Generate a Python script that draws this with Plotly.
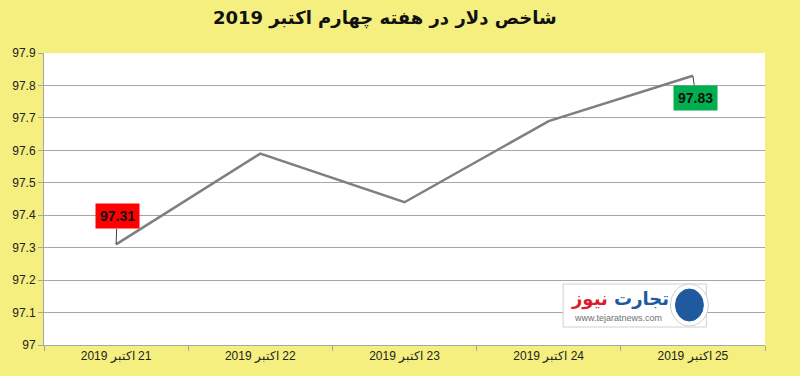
import plotly.graph_objects as go

dates = ["21", "22", "23", "24", "25"]
month_label = "اکتبر"
year_label = "2019"
values = [97.31, 97.59, 97.44, 97.69, 97.83]
y_ticks = [97, 97.1, 97.2, 97.3, 97.4, 97.5, 97.6, 97.7, 97.8, 97.9]
title_text = "شاخص دلار در هفته چهارم اکتبر 2019"

tick_text = ["\u202B" + d + " " + month_label + " " + year_label + "\u202C" for d in dates]
xs = list(range(len(dates)))

fig = go.Figure()
fig.add_trace(go.Scatter(x=xs, y=values, mode="lines",
                         line=dict(color="#7F7F7F", width=2.5),
                         hoverinfo="skip", showlegend=False))

bg = "#F4EF7E"
fig.update_layout(
    width=800, height=376,
    paper_bgcolor=bg, plot_bgcolor="white",
    margin=dict(l=40, r=35, t=53, b=31),
    title=dict(text="<b>" + title_text + "</b>", x=0.481, xanchor="center", y=0.952, yanchor="middle",
               font=dict(family="DejaVu Sans", size=18, color="#111111")),
    font=dict(family="Liberation Sans", size=12, color="#222222"),
)
fig.update_xaxes(range=[-0.5, len(dates) - 0.5], tickmode="array", tickvals=xs,
                 ticktext=tick_text, ticks="", showgrid=False, zeroline=False,
                 showline=True, linecolor="#A6A6A6", linewidth=1,
                 tickfont=dict(size=12, color="#222222"),
                 minor=dict(tickmode="linear", tick0=-0.5, dtick=1, ticks="outside",
                            ticklen=5, tickcolor="#A6A6A6", showgrid=False))
fig.update_yaxes(range=[97, 97.9], tickmode="array", tickvals=y_ticks,
                 ticktext=[("%g" % v) for v in y_ticks],
                 showgrid=True, gridcolor="#A6A6A6", gridwidth=1, zeroline=False,
                 showline=True, linecolor="#A6A6A6", linewidth=1,
                 ticks="outside", ticklen=5, tickcolor="#A6A6A6",
                 tickfont=dict(size=12, color="#222222"))

fig.add_annotation(x=xs[0], y=values[0], text="<b>%.2f</b>" % values[0],
                   showarrow=True, arrowhead=0, arrowwidth=1, arrowcolor="#404040",
                   ax=1, ay=-28, bgcolor="#FF0000", borderpad=4,
                   font=dict(family="Liberation Sans", size=14, color="#111111"))
fig.add_annotation(x=xs[4], y=values[4], text="<b>%.2f</b>" % values[4],
                   showarrow=True, arrowhead=0, arrowwidth=1, arrowcolor="#404040",
                   ax=3, ay=22, bgcolor="#00B050", borderpad=4,
                   font=dict(family="Liberation Sans", size=14, color="#111111"))

# watermark logo
fig.add_shape(type="rect", xref="paper", yref="paper",
              x0=(562 - 40) / 725, x1=(706 - 40) / 725,
              y0=(345 - 327) / 292, y1=(345 - 284) / 292,
              fillcolor="white", line=dict(color="#D0D0D0", width=1), layer="above")
fig.add_shape(type="circle", xref="paper", yref="paper",
              x0=(670 - 40) / 725, x1=(708 - 40) / 725,
              y0=(345 - 326) / 292, y1=(345 - 284) / 292,
              fillcolor="white", line=dict(color="#D0D0D0", width=1), layer="above")
fig.add_shape(type="circle", xref="paper", yref="paper",
              x0=(675 - 40) / 725, x1=(703 - 40) / 725,
              y0=(345 - 321) / 292, y1=(345 - 289) / 292,
              fillcolor="#1F5A9E", line=dict(color="#1F5A9E", width=1), layer="above")
fig.add_annotation(xref="paper", yref="paper", x=(619 - 40) / 725, y=(345 - 299) / 292,
                   xanchor="center", yanchor="middle",
                   text="<b><span style='color:#1F5A9E'>تجارت</span> <span style='color:#D81E2C'>نیوز</span></b>",
                   showarrow=False, font=dict(family="DejaVu Sans", size=18))
fig.add_annotation(xref="paper", yref="paper", x=(617 - 40) / 725, y=(345 - 318) / 292,
                   xanchor="center", yanchor="middle",
                   text="www.tejaratnews.com", showarrow=False,
                   font=dict(family="Liberation Sans", size=9, color="#707070"))

fig.write_html("out.html")
